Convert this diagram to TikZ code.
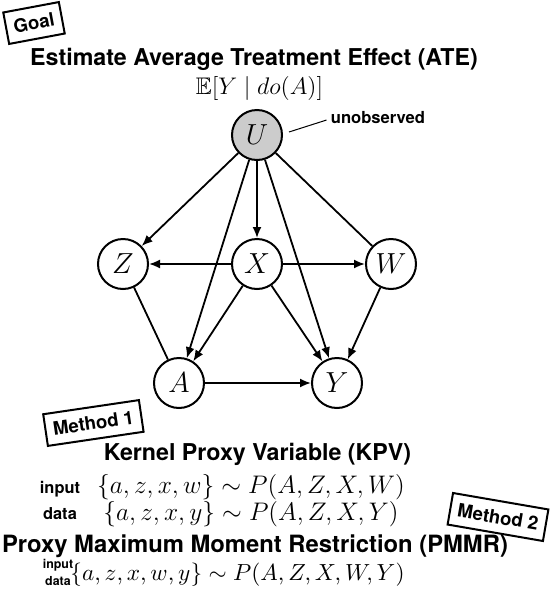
\documentclass[tikz,border=0pt]{standalone}
\usepackage{fix-cm}
\usepackage{amssymb}
\usepackage{fontspec}
\newfontfamily\helv{TeX Gyre Heros}
\usepackage{tikz}
\usetikzlibrary{arrows.meta, positioning, calc}

\begin{document}
\begin{tikzpicture}[
      var/.style={circle, draw, line width=1pt, minimum size=25pt, inner sep=0pt,
        font=\fontsize{14.5}{17}\selectfont},
      tag/.style={rectangle, draw, line width=1pt, inner xsep=3.8pt, minimum height=16pt,
        font=\helv\bfseries\fontsize{9.3}{11}\selectfont},
      title/.style={font=\helv\bfseries\fontsize{11.6}{14}\selectfont, inner sep=0pt, anchor=base},
      formula/.style={font=\fontsize{12.7}{15}\selectfont, inner sep=0pt, anchor=base},
      inlabel/.style={align=center, inner sep=0pt, anchor=base,
        font=\helv\bfseries\fontsize{8.2}{13}\selectfont},
      cause/.style={-{Latex[length=5.5pt, width=4.5pt]}, line width=0.9pt},
      link/.style={line width=0.9pt},
      pointer/.style={line width=0.5pt}
    ]
      \useasboundingbox (0,0) rectangle (275pt,-303pt);
      % goal
      \node[tag, rotate=10.6] (goal) at (17pt,-11.5pt) {Goal};
      \node[title] (ate) at (127pt,-32.5pt) {Estimate Average Treatment Effect (ATE)};
      \node[formula, font=\fontsize{12}{14}\selectfont] (estimand) at (129.75pt,-47pt)
        {$\mathbb{E}[Y \mid do(A)]$};
      % causal graph
      \node[var, fill=gray!40] (U) at (128.5pt,-67.5pt) {$U$};
      \node[var, below=38.5pt of U] (X) {$X$};
      \node[var, left=41pt of X] (Z) {$Z$};
      \node[var, right=41pt of X] (W) {$W$};
      \node[var] (A) at ($(X)+(-39pt,-59.5pt)$) {$A$};
      \node[var] (Y) at ($(X)+(40pt,-59.5pt)$) {$Y$};
      \node[inner xsep=2pt, inner ysep=0pt, anchor=base, font=\helv\bfseries\fontsize{8.3}{10}\selectfont]
        (unobs) at (189pt,-61.5pt) {unobserved};
      \draw[pointer] ([shift={(3pt,1.5pt)}]U.east) -- ([yshift=-1.5pt]unobs.west);
      \draw[cause] (U) -- (Z);
      \draw[cause] (U) -- (X);
      \draw[cause] (U) -- (A);
      \draw[cause] (U) -- (Y);
      \draw[link] (U) -- (W);
      \draw[cause] (X) -- (Z);
      \draw[cause] (X) -- (W);
      \draw[cause] (X) -- (A);
      \draw[cause] (X) -- (Y);
      \draw[cause] (W) -- (Y);
      \draw[link] (Z) -- (A);
      \draw[cause] (A) -- (Y);
      % method 1
      \node[tag, rotate=8.4] (m1) at (46.7pt,-211.5pt) {Method 1};
      \node[title] (kpv) at (128.75pt,-230pt) {Kernel Proxy Variable (KPV)};
      \node[inlabel] (kpvin) at (30pt,-259.5pt) {input\\data};
      \node[formula] (kpvd1) at (125.5pt,-246.75pt) {$\{a,z,x,w\}\sim P(A,Z,X,W)$};
      \node[formula] (kpvd2) at ([yshift=-13.5pt]kpvd1.base) {$\{a,z,x,y\}\sim P(A,Z,X,Y)$};
      % method 2
      \node[tag, rotate=-9.8] (m2) at (249pt,-258.5pt) {Method 2};
      \node[title, font=\helv\bfseries\fontsize{11.9}{14}\selectfont] (pmmr) at (127.5pt,-276pt)
        {Proxy Maximum Moment Restriction (PMMR)};
      \node[inlabel, font=\helv\bfseries\fontsize{6.2}{8.5}\selectfont] (pmmrin) at (29pt,-292.5pt) {input\\data};
      \node[formula, font=\fontsize{11.65}{14}\selectfont] (pmmrd) at (118.75pt,-290pt)
        {$\{a,z,x,w,y\}\sim P(A,Z,X,W,Y)$};
\end{tikzpicture}
\end{document}
